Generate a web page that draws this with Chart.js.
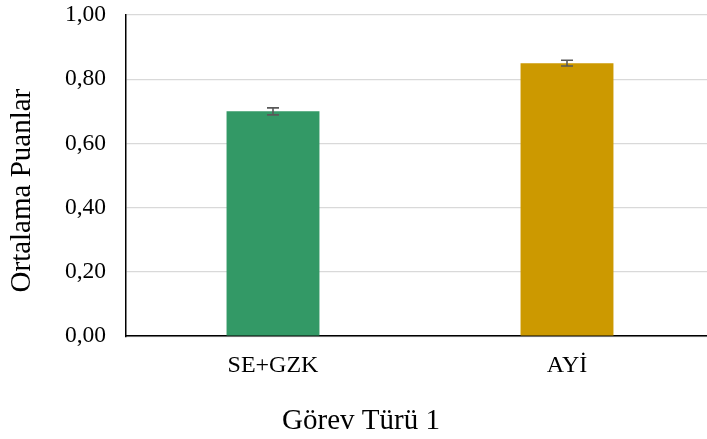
<!DOCTYPE html>
<html lang="tr">
<head>
  <meta charset="UTF-8" />
  <title>Görev Türü 1</title>
  <script src="https://cdn.jsdelivr.net/npm/chart.js"></script>
  <style>
    html, body { margin: 0; padding: 0; background: #fff; overflow: hidden; }
    #wrap { width: 730px; height: 439px; }
  </style>
</head>
<body>

<div id="wrap"><canvas id="barChart"></canvas></div>

<script>
  const categories = ["SE+GZK", "AYİ"];
  const meanScores = [0.70, 0.85];
  const errorValues = [0.011, 0.009];
  const barColors = ['#339966', '#cc9900'];
  const yTickLabels = ["0,00", "0,20", "0,40", "0,60", "0,80", "1,00"];

  const serif = "'Liberation Serif', 'Times New Roman', serif";

  // error bars drawn through the y scale
  const errorBars = {
    id: 'errorBars',
    afterDatasetsDraw(chart) {
      const ctx = chart.ctx;
      const y = chart.scales.y;
      const meta = chart.getDatasetMeta(0);
      ctx.save();
      ctx.strokeStyle = '#595959';
      ctx.lineWidth = 1.6;
      meta.data.forEach((bar, i) => {
        const v = meanScores[i], e = errorValues[i];
        const top = y.getPixelForValue(v + e);
        const bot = y.getPixelForValue(v - e);
        ctx.beginPath();
        ctx.moveTo(bar.x, top); ctx.lineTo(bar.x, bot);
        ctx.moveTo(bar.x - 6, top); ctx.lineTo(bar.x + 6, top);
        ctx.moveTo(bar.x - 6, bot); ctx.lineTo(bar.x + 6, bot);
        ctx.stroke();
      });
      ctx.restore();
    }
  };

  // y axis title, centred a bit lower than the plot area like the original
  const yTitle = {
    id: 'yTitle',
    afterDraw(chart) {
      const ctx = chart.ctx;
      const a = chart.chartArea;
      ctx.save();
      ctx.translate(22, (a.top + a.bottom) / 2 + 15);
      ctx.rotate(-Math.PI / 2);
      ctx.font = '29px ' + serif;
      ctx.fillStyle = '#000';
      ctx.textAlign = 'center';
      ctx.textBaseline = 'middle';
      ctx.fillText('Ortalama Puanlar', 0, 0);
      ctx.restore();
    }
  };

  new Chart(document.getElementById('barChart'), {
    type: 'bar',
    data: {
      labels: categories,
      datasets: [{
        data: meanScores,
        backgroundColor: barColors,
        borderWidth: 0,
        barPercentage: 0.316,
        categoryPercentage: 1
      }]
    },
    options: {
      responsive: true,
      maintainAspectRatio: false,
      animation: false,
      layout: { padding: { top: 15, right: 16, left: 8, bottom: 0 } },
      plugins: {
        legend: { display: false },
        tooltip: { enabled: false },
        title: {
          display: true,
          text: 'Görev Türü 1',
          position: 'bottom',
          color: '#000',
          font: { family: serif, size: 29, weight: 'normal' },
          padding: { top: 18, bottom: 0 }
        }
      },
      scales: {
        x: {
          grid: { display: false, drawTicks: false },
          border: { color: '#000', width: 1.5 },
          ticks: { color: '#000', padding: 15, font: { family: serif, size: 24 } },
          afterFit(scale) { scale.height = 50; scale.paddingLeft = 0; scale.paddingRight = 0; }
        },
        y: {
          min: 0,
          max: 1,
          ticks: {
            stepSize: 0.2,
            color: '#000',
            padding: 20,
            font: { family: serif, size: 23.5 },
            callback: (v, i) => yTickLabels[i]
          },
          grid: { color: '#d9d9d9', lineWidth: 1.3, drawTicks: false },
          border: { color: '#000', width: 1.5 },
          afterFit(scale) { scale.width = 118; scale.paddingTop = 0; scale.paddingBottom = 0; }
        }
      }
    },
    plugins: [errorBars, yTitle]
  });
</script>

</body>
</html>
